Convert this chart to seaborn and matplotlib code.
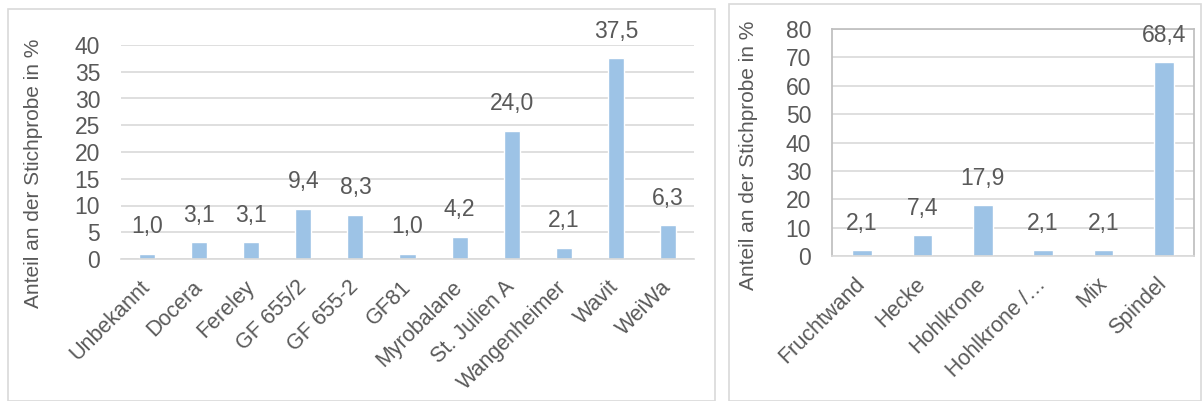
import matplotlib
matplotlib.use("Agg")
import matplotlib.pyplot as plt
from matplotlib.patches import Rectangle
import seaborn as sns
import numpy as np
import pandas as pd

# Unterlagen (links) und Erziehungssysteme (rechts)
rootstocks = ["Unbekannt", "Docera", "Fereley", "GF 655/2", "GF 655-2", "GF81",
              "Myrobalane", "St. Julien A", "Wangenheimer", "Wavit", "WeiWa"]
rootstock_share = [1.0, 3.1, 3.1, 9.4, 8.3, 1.0, 4.2, 24.0, 2.1, 37.5, 6.3]

systems = ["Fruchtwand", "Hecke", "Hohlkrone", "Hohlkrone /…", "Mix", "Spindel"]
system_share = [2.1, 7.4, 17.9, 2.1, 2.1, 68.4]

ylabel = "Anteil an der Stichprobe in %"

sns.set_theme(style="white")
plt.rcParams["font.family"] = ["Liberation Sans", "DejaVu Sans"]

bar_col = "#9DC3E6"
txt_col = "#595959"
grid_col = "#D9D9D9"

W, H = 1202, 401
fig = plt.figure(figsize=(W / 100, H / 100), dpi=100)


def px_axes(x0, x1, ytop, ybot):
    return fig.add_axes([x0 / W, (H - ybot) / H, (x1 - x0) / W, (ybot - ytop) / H])


# Rahmen der beiden Diagramme
fig.patches.append(Rectangle((8 / W, 0), (715 - 8) / W, (H - 13) / H + 0.01,
                             transform=fig.transFigure, fill=False,
                             edgecolor=grid_col, lw=1.2))
fig.patches.append(Rectangle((729 / W, 0), (1201 - 729) / W, (H - 8) / H + 0.01,
                             transform=fig.transFigure, fill=False,
                             edgecolor=grid_col, lw=1.2))


def draw(ax, cats, vals, ymax, step, width, boxed, lab_xy):
    df = pd.DataFrame({"cat": cats, "val": vals})
    sns.barplot(data=df, x="cat", y="val", color=bar_col, saturation=1,
                width=width, ax=ax)
    ax.set_ylim(0, ymax)
    ax.set_yticks(np.arange(0, ymax + 1, step))
    ax.yaxis.grid(True, color=grid_col, lw=1.2)
    ax.set_axisbelow(True)
    for s in ["top", "left", "right"]:
        ax.spines[s].set_visible(boxed)
        ax.spines[s].set_color("#BFBFBF")
    ax.spines["bottom"].set_color(grid_col)
    ax.spines["bottom"].set_linewidth(1.2)
    ax.tick_params(axis="both", length=0, colors=txt_col)
    ax.tick_params(axis="y", pad=15, labelsize=16.5)
    ax.tick_params(axis="x", pad=18, labelsize=15.5)
    plt.setp(ax.get_xticklabels(), rotation=45, ha="right", va="center",
             rotation_mode="anchor")
    ax.set_xlabel("")
    ax.set_ylabel(ylabel, fontsize=15, color=txt_col)
    ax.yaxis.set_label_coords(*lab_xy)
    ax.bar_label(ax.containers[0],
                 labels=[f"{v:.1f}".replace(".", ",") for v in vals],
                 padding=11, fontsize=16.5, color=txt_col)
    ax.set_facecolor("none")


ax1 = px_axes(121, 694, 45, 259)
draw(ax1, rootstocks, rootstock_share, 40, 5, 0.31, False, (-0.136, 0.40))

ax2 = px_axes(832, 1194, 29, 256)
draw(ax2, systems, system_share, 80, 10, 0.33, True, (-0.204, 0.445))

fig.savefig("out.png", dpi=100)
